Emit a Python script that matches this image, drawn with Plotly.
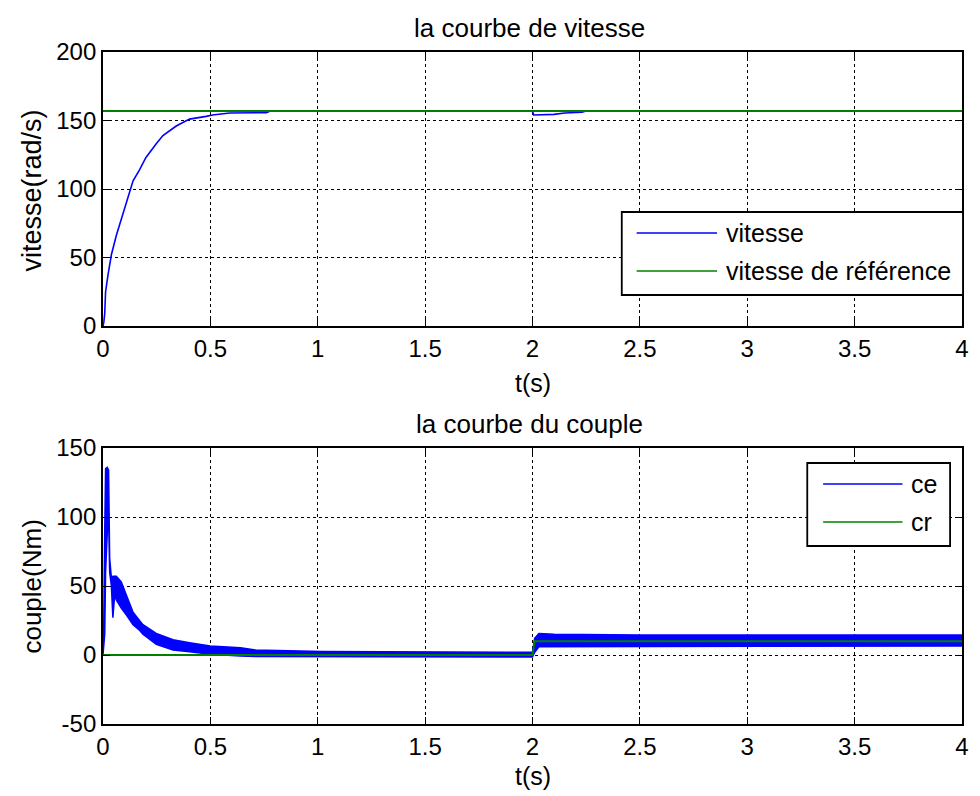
import plotly.graph_objects as go

# ---------------- data ----------------
# speed (rad/s)
t_speed = [0, 0.004, 0.008, 0.012, 0.023, 0.039, 0.062, 0.085, 0.109, 0.14, 0.17, 0.2,
           0.248, 0.279, 0.341, 0.403, 0.48, 0.51, 0.59, 0.76, 0.78, 2.0, 2.005, 2.1,
           2.15, 2.23, 2.25, 4.0]
v_speed = [0, 3, 9, 25, 37, 52, 66, 78, 90, 106, 114, 123,
           133, 139, 146, 151, 153, 154, 155.5, 155.7, 157, 157, 154, 154.5,
           155.5, 156, 157, 157]
t_ref = [0, 4.0]
v_ref = [157, 157]

# electromagnetic torque ce (Nm): upper / lower envelope of the ripple band
t_ce = [0, 0.003, 0.008, 0.012, 0.02, 0.026, 0.031, 0.039, 0.046, 0.054, 0.062, 0.085,
        0.109, 0.14, 0.17, 0.186, 0.248, 0.326, 0.403, 0.5, 0.64, 0.71, 1.02, 1.5,
        1.99, 2.0, 2.01, 2.03, 2.1, 2.5, 3.0, 3.5, 4.0]
ce_upper = [0, 15, 89, 135, 136, 134, 70, 56, 57, 57, 57, 53,
            44, 31, 25, 22, 15.6, 11, 8.9, 6.5, 5.3, 3.6, 2.6, 2.2,
            2.2, 2, 12, 15.5, 15, 14.5, 14.5, 14.5, 14.5]
ce_lower = [0, 0, 15, 60, 89, 100, 60, 50, 27, 43, 40, 34,
            29, 22, 18, 15, 7.7, 3.6, 2.4, 0.5, -0.7, -1, -1.4, -1.5,
            -1.5, -1.5, 2, 6, 6.5, 6.5, 6.5, 6.5, 6.5]
# load torque cr (Nm)
t_cr = [0, 2.0, 2.01, 4.0]
cr = [0, 0, 10, 10]

x_ticks = [0, 0.5, 1, 1.5, 2, 2.5, 3, 3.5, 4]
x_tick_text = ["0", "0.5", "1", "1.5", "2", "2.5", "3", "3.5", "4"]
y1_ticks = [0, 50, 100, 150, 200]
y1_tick_text = ["0", "50", "100", "150", "200"]
y2_ticks = [-50, 0, 50, 100, 150]
y2_tick_text = ["-50", "0", "50", "100", "150"]

BLUE = "rgb(0,0,255)"
GREEN = "rgb(0,128,0)"
FONT = "Liberation Sans, Arial, sans-serif"
FS_TICK = 24
FS = 25

fig = go.Figure()

# top: speed
fig.add_trace(go.Scatter(x=t_speed, y=v_speed, mode="lines", line=dict(color=BLUE, width=1.6),
                         xaxis="x", yaxis="y", showlegend=False))
fig.add_trace(go.Scatter(x=t_ref, y=v_ref, mode="lines", line=dict(color=GREEN, width=2),
                         xaxis="x", yaxis="y", showlegend=False))

# bottom: torque band
band_x = t_ce + t_ce[::-1]
band_y = ce_upper + ce_lower[::-1]
fig.add_trace(go.Scatter(x=band_x, y=band_y, mode="lines", fill="toself", fillcolor=BLUE,
                         line=dict(color=BLUE, width=1.5), xaxis="x2", yaxis="y2", showlegend=False))
fig.add_trace(go.Scatter(x=t_cr, y=cr, mode="lines", line=dict(color=GREEN, width=2),
                         xaxis="x2", yaxis="y2", showlegend=False))

L, R, T, B = 103, 11, 52, 72
W, H = 980, 796
PW = W - L - R
PH = H - T - B


def px(x):
    return (x - L) / PW


def py(y):
    return (H - B - y) / PH


top_dom = [py(326), 1.0]
bot_dom = [0.0, py(448)]

axis_common = dict(
    showline=True, linecolor="black", linewidth=1.8, mirror="ticks",
    ticks="inside", ticklen=7, tickcolor="black", tickwidth=1.3,
    showgrid=True, gridcolor="black", gridwidth=1.2, griddash="dot",
    zeroline=False, tickfont=dict(family=FONT, size=FS_TICK, color="black"),
)

fig.update_layout(
    width=W, height=H, margin=dict(l=L, r=R, t=T, b=B),
    paper_bgcolor="white", plot_bgcolor="white",
    xaxis=dict(domain=[0, 1], range=[0, 4], tickvals=x_ticks, ticktext=x_tick_text,
               anchor="y", **axis_common),
    yaxis=dict(domain=top_dom, range=[0, 200], tickvals=y1_ticks, ticktext=y1_tick_text,
               anchor="x", **axis_common),
    xaxis2=dict(domain=[0, 1], range=[0, 4], tickvals=x_ticks, ticktext=x_tick_text,
                anchor="y2", **axis_common),
    yaxis2=dict(domain=bot_dom, range=[-50, 150], tickvals=y2_ticks, ticktext=y2_tick_text,
                anchor="x2", **axis_common),
)

ann_font = dict(family=FONT, size=FS, color="black")
annotations = [
    dict(text="la courbe de vitesse", x=px(533), y=py(28), font=dict(family=FONT, size=26, color="black")),
    dict(text="la courbe du couple", x=px(533), y=py(424), font=dict(family=FONT, size=26, color="black")),
    dict(text="t(s)", x=px(536), y=py(383)),
    dict(text="t(s)", x=px(536), y=py(776)),
    dict(text="vitesse(rad/s)", x=px(31), y=py(191), textangle=-90,
         font=dict(family=FONT, size=27, color="black")),
    dict(text="couple(Nm)", x=px(31), y=py(587), textangle=-90,
         font=dict(family=FONT, size=26, color="black")),
]
for a in annotations:
    a.setdefault("font", ann_font)
    a.update(xref="paper", yref="paper", showarrow=False,
             xanchor="center", yanchor="middle")

shapes = []


# legend boxes (MATLAB style)
def legend(box, entries):
    x0, y0, x1, y1 = box
    shapes.append(dict(type="rect", xref="paper", yref="paper", x0=px(x0), x1=px(x1),
                       y0=py(y1), y1=py(y0), line=dict(color="black", width=1.8),
                       fillcolor="white", layer="above"))
    for (lx0, lx1, ly, tx, txt, col) in entries:
        shapes.append(dict(type="line", xref="paper", yref="paper", x0=px(lx0), x1=px(lx1),
                           y0=py(ly), y1=py(ly), line=dict(color=col, width=1.6), layer="above"))
        annotations.append(dict(text=txt, x=px(tx), y=py(ly), xref="paper", yref="paper",
                                showarrow=False, font=ann_font, xanchor="left", yanchor="middle"))


legend((626, 212, 970, 295), [
    (641, 722, 233, 729, "vitesse", BLUE),
    (641, 722, 271, 729, "vitesse de référence", GREEN),
])
legend((813, 463, 957, 546), [
    (829, 909, 484, 916, "ce", BLUE),
    (829, 909, 522, 916, "cr", GREEN),
])

fig.update_layout(annotations=annotations, shapes=shapes)
fig.write_html("out.html")
